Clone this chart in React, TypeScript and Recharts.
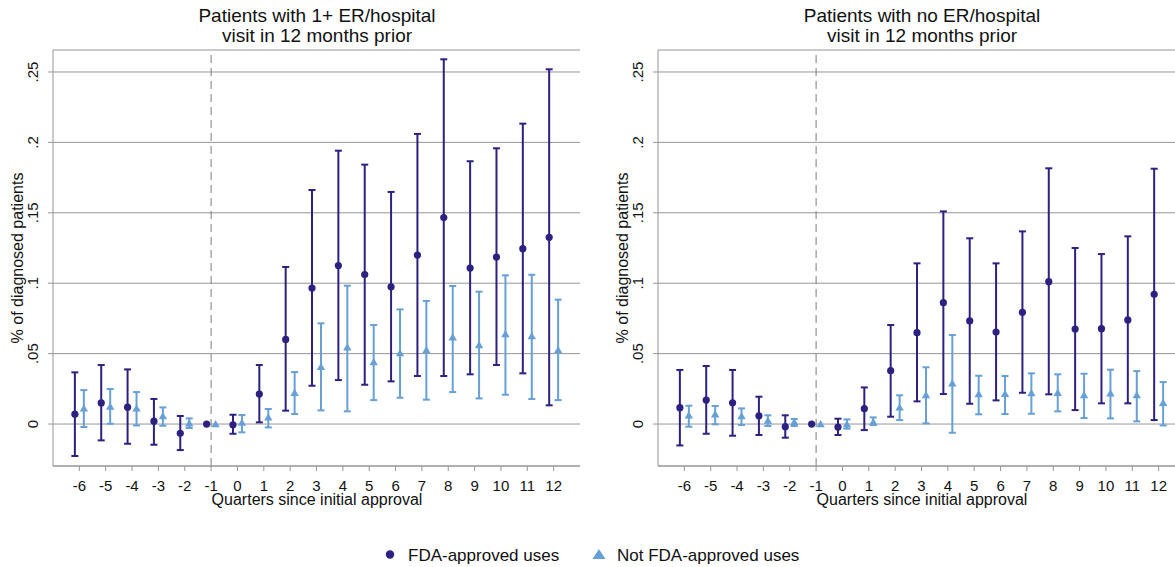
import { CartesianGrid, ComposedChart, ErrorBar, ReferenceLine, Scatter, XAxis, YAxis } from 'recharts'

const QUARTERS = [-6, -5, -4, -3, -2, -1, 0, 1, 2, 3, 4, 5, 6, 7, 8, 9, 10, 11, 12]
const Y_TICKS = [0, 0.05, 0.1, 0.15, 0.2, 0.25]
const Y_TICK_LABELS = ['0', '.05', '.1', '.15', '.2', '.25']

// panel 1: patients with 1+ ER/hospital visit in 12 months prior
const fdaPriorEst = [0.007, 0.015, 0.012, 0.002, -0.0066, 0, -0.0005, 0.0213, 0.0601, 0.0966, 0.1125, 0.1061, 0.0975, 0.12, 0.1466, 0.1108, 0.1186, 0.1245, 0.1326]
const fdaPriorLo = [-0.0227, -0.0116, -0.014, -0.0147, -0.0185, null, -0.0069, 0.0012, 0.0095, 0.0272, 0.0312, 0.0279, 0.0303, 0.0341, 0.0341, 0.0353, 0.0419, 0.036, 0.0133]
const fdaPriorHi = [0.0367, 0.0419, 0.0388, 0.0178, 0.0057, null, 0.0066, 0.0419, 0.1115, 0.1662, 0.1941, 0.1842, 0.1648, 0.206, 0.259, 0.1866, 0.1958, 0.2133, 0.2519]
const offPriorEst = [0.0111, 0.0125, 0.0111, 0.0057, 0.0006, 0, 0.001, 0.0047, 0.0222, 0.0407, 0.0545, 0.044, 0.0504, 0.0526, 0.0616, 0.0561, 0.0639, 0.0625, 0.0526]
const offPriorLo = [-0.0021, 0.0002, -0.001, -0.0012, -0.0028, null, -0.0059, -0.0024, 0.0071, 0.0097, 0.009, 0.017, 0.0187, 0.0173, 0.0227, 0.0182, 0.0208, 0.0178, 0.017]
const offPriorHi = [0.0241, 0.0249, 0.0227, 0.0118, 0.004, null, 0.0064, 0.0107, 0.0369, 0.0715, 0.0982, 0.0703, 0.0814, 0.0874, 0.098, 0.094, 0.1056, 0.106, 0.0883]

// panel 2: patients with no ER/hospital visit in 12 months prior
const fdaNoneEst = [0.0116, 0.017, 0.0151, 0.0059, -0.0019, 0, -0.0021, 0.0109, 0.0379, 0.0649, 0.0862, 0.0732, 0.0653, 0.0793, 0.1011, 0.0675, 0.0677, 0.0739, 0.0921]
const fdaNoneLo = [-0.0152, -0.0069, -0.0083, -0.0078, -0.0097, null, -0.0078, -0.0043, 0.0052, 0.0161, 0.0213, 0.0144, 0.0168, 0.0222, 0.0211, 0.0099, 0.0147, 0.0147, 0.0028]
const fdaNoneHi = [0.0384, 0.0412, 0.0384, 0.0194, 0.0062, null, 0.0038, 0.026, 0.0703, 0.1141, 0.151, 0.1319, 0.1141, 0.1368, 0.1816, 0.125, 0.1207, 0.1333, 0.1813]
const offNoneEst = [0.0062, 0.0069, 0.0057, 0.0024, 0.0014, 0, -0.0002, 0.0014, 0.0118, 0.0206, 0.0289, 0.0213, 0.0215, 0.022, 0.0222, 0.0206, 0.0218, 0.0206, 0.0151]
const offNoneLo = [-0.0019, -0.0002, -0.0007, -0.0014, -0.0014, null, -0.0033, -0.0007, 0.0028, 0.0005, -0.0062, 0.0069, 0.0071, 0.0073, 0.009, 0.0043, 0.004, 0.0019, -0.001]
const offNoneHi = [0.013, 0.0128, 0.0111, 0.0062, 0.0036, null, 0.0033, 0.0047, 0.0204, 0.0403, 0.0632, 0.0343, 0.0341, 0.036, 0.0353, 0.0357, 0.0386, 0.0376, 0.0298]

const DARK = '#2c2180'
const LIGHT = '#66a0d6'
const GRID = '#969696'
const INK = '#111'
const FONT = '"Liberation Sans", Arial, Helvetica, sans-serif'

type Row = { q: number; v: number; err: [number, number] | null }

function buildRows(est: number[], lo: (number | null)[], hi: (number | null)[], shift: number): Row[] {
  return QUARTERS.map((q, i) => {
    const l = lo[i]
    const h = hi[i]
    return {
      q: q + shift,
      v: est[i],
      err: l == null || h == null ? null : [est[i] - l, h - est[i]],
    }
  })
}

function YTick({ x, y, payload }: { x?: number; y?: number; payload?: { value: number } }) {
  const idx = Y_TICKS.indexOf(payload?.value ?? NaN)
  const label = idx >= 0 ? Y_TICK_LABELS[idx] : String(payload?.value)
  return (
    <text
      x={x}
      y={y}
      transform={`rotate(-90 ${x} ${y})`}
      textAnchor="middle"
      fontSize={15}
      fontFamily={FONT}
      fill={INK}
    >
      {label}
    </text>
  )
}

function Dot(props: any) {
  return <circle cx={props.cx} cy={props.cy} r={3.6} fill={DARK} />
}

function Tri(props: any) {
  const { cx, cy } = props
  return <polygon points={`${cx},${cy - 4} ${cx + 4.2},${cy + 3.2} ${cx - 4.2},${cy + 3.2}`} fill={LIGHT} />
}

function Panel({ fda, off }: { fda: Row[]; off: Row[] }) {
  return (
    <ComposedChart width={590} height={510} margin={{ top: 50, right: 10, bottom: 0, left: 0 }}>
      <CartesianGrid vertical={false} stroke={GRID} strokeWidth={1} />
      <XAxis
        type="number"
        dataKey="q"
        domain={[-7, 13]}
        allowDataOverflow
        ticks={QUARTERS}
        interval={0}
        height={44}
        tickSize={5}
        tickMargin={9}
        stroke={GRID}
        tick={{ fontSize: 15, fill: INK, fontFamily: FONT }}
      />
      <YAxis
        type="number"
        dataKey="v"
        domain={[-0.0298, 0.2656]}
        allowDataOverflow
        ticks={Y_TICKS}
        interval={0}
        width={53}
        tickSize={5}
        tickMargin={10}
        stroke={GRID}
        tick={<YTick />}
      />
      <ReferenceLine x={-1} stroke="#7c7c7c" strokeWidth={1} strokeDasharray="8 5" />
      <Scatter data={fda} dataKey="v" shape={<Dot />} isAnimationActive={false}>
        <ErrorBar dataKey="err" direction="y" width={3.5} stroke={DARK} strokeWidth={2} isAnimationActive={false} />
      </Scatter>
      <Scatter data={off} dataKey="v" shape={<Tri />} isAnimationActive={false}>
        <ErrorBar dataKey="err" direction="y" width={3.5} stroke={LIGHT} strokeWidth={2} isAnimationActive={false} />
      </Scatter>
    </ComposedChart>
  )
}

function PanelText({ dx, line1 }: { dx: number; line1: string }) {
  const cx = dx + 317
  return (
    <g fontFamily={FONT} fill={INK}>
      <text x={cx} y={21.5} textAnchor="middle" fontSize={19}>
        {line1}
      </text>
      <text x={cx} y={41.5} textAnchor="middle" fontSize={19}>
        visit in 12 months prior
      </text>
      <text x={cx} y={505} textAnchor="middle" fontSize={16}>
        Quarters since initial approval
      </text>
      <text
        x={dx + 23}
        y={258}
        transform={`rotate(-90 ${dx + 23} 258)`}
        textAnchor="middle"
        fontSize={16}
      >
        % of diagnosed patients
      </text>
    </g>
  )
}

export default function App() {
  const fdaPrior = buildRows(fdaPriorEst, fdaPriorLo, fdaPriorHi, -0.17)
  const offPrior = buildRows(offPriorEst, offPriorLo, offPriorHi, 0.17)
  const fdaNone = buildRows(fdaNoneEst, fdaNoneLo, fdaNoneHi, -0.17)
  const offNone = buildRows(offNoneEst, offNoneLo, offNoneHi, 0.17)

  return (
    <div
      style={{
        position: 'absolute',
        left: 0,
        top: 0,
        width: 1175,
        height: 567,
        overflow: 'hidden',
        background: '#fff',
        fontFamily: FONT,
      }}
    >
      <div style={{ position: 'absolute', left: 0, top: 0 }}>
        <Panel fda={fdaPrior} off={offPrior} />
      </div>
      <div style={{ position: 'absolute', left: 605, top: 0 }}>
        <Panel fda={fdaNone} off={offNone} />
      </div>
      <svg width={1175} height={567} style={{ position: 'absolute', left: 0, top: 0, pointerEvents: 'none' }}>
        <PanelText dx={0} line1="Patients with 1+ ER/hospital" />
        <PanelText dx={605} line1="Patients with no ER/hospital" />
        <g fontFamily={FONT} fill={INK}>
          <circle cx={390} cy={554.5} r={4.2} fill={DARK} />
          <text x={408} y={560.5} fontSize={17}>
            FDA-approved uses
          </text>
          <polygon points="599,549 605.5,559 592.5,559" fill={LIGHT} />
          <text x={617} y={560.5} fontSize={17}>
            Not FDA-approved uses
          </text>
        </g>
      </svg>
    </div>
  )
}
